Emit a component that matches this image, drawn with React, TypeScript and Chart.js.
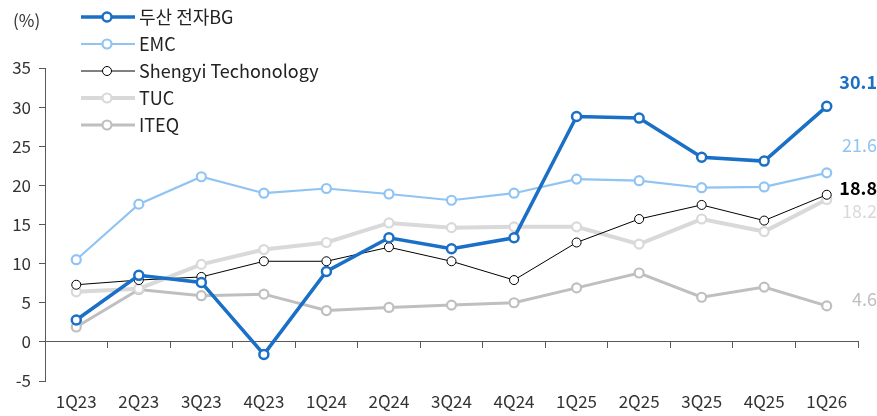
import React, { useEffect, useRef } from "react";
import { Chart, registerables } from "chart.js";

Chart.register(...registerables);

const categories = ["1Q23", "2Q23", "3Q23", "4Q23", "1Q24", "2Q24", "3Q24", "4Q24", "1Q25", "2Q25", "3Q25", "4Q25", "1Q26"];
const doosan = [2.8, 8.5, 7.6, -1.6, 9.0, 13.3, 11.9, 13.3, 28.8, 28.6, 23.6, 23.1, 30.1];
const emc = [10.5, 17.6, 21.1, 19.0, 19.6, 18.9, 18.1, 19.0, 20.8, 20.6, 19.7, 19.8, 21.6];
const shengyi = [7.3, 7.9, 8.3, 10.3, 10.3, 12.1, 10.3, 7.9, 12.7, 15.7, 17.5, 15.5, 18.8];
const tuc = [6.4, 6.8, 9.9, 11.8, 12.7, 15.2, 14.6, 14.7, 14.7, 12.5, 15.7, 14.1, 18.2];
const iteq = [1.9, 6.7, 5.9, 6.1, 4.0, 4.4, 4.7, 5.0, 6.9, 8.8, 5.7, 7.0, 4.6];
const seriesNames = ["두산 전자BG", "EMC", "Shengyi Techonology", "TUC", "ITEQ"];
const yTicks = [-5, 0, 5, 10, 15, 20, 25, 30, 35];

const FONT = "'Noto Sans CJK KR', 'Noto Sans', sans-serif";
const colors = ["#1a6fc6", "#90c4f3", "#000000", "#d9d9d9", "#bfbfbf"];
const widths = [3.5, 2.2, 1, 4, 3];
const borderW = [2.5, 2.2, 1, 2.2, 2.2];

export default function App() {
  const ref = useRef<HTMLCanvasElement | null>(null);
  useEffect(() => {
    document.body.style.margin = "0";
    const all = [doosan, emc, shengyi, tuc, iteq];
    const labelOffsets = [-24, -28, -7, 12, -7];
    const labelBold = [true, false, true, false, false];
    const overlay = {
      id: "overlay",
      afterDraw(chart: any) {
        const ctx = chart.ctx;
        const ys = chart.scales.y;
        ctx.save();
        // (%) unit
        ctx.font = `17px ${FONT}`;
        ctx.fillStyle = "#333";
        ctx.textAlign = "left";
        ctx.textBaseline = "middle";
        ctx.fillText("(%)", 13, 21);
        // legend
        const rows = [17, 44, 71, 98, 125];
        seriesNames.forEach((name, i) => {
          const y = rows[i];
          ctx.strokeStyle = colors[i];
          ctx.lineWidth = widths[i];
          ctx.beginPath();
          ctx.moveTo(81, y);
          ctx.lineTo(135, y);
          ctx.stroke();
          ctx.beginPath();
          ctx.arc(107, y, 4.5, 0, Math.PI * 2);
          ctx.fillStyle = "#fff";
          ctx.fill();
          ctx.lineWidth = borderW[i];
          ctx.stroke();
          ctx.fillStyle = "#222";
          ctx.font = `18px ${FONT}`;
          ctx.textAlign = "left";
          ctx.fillText(name, 139, y);
        });
        // end labels
        all.forEach((arr, i) => {
          const v = arr[arr.length - 1];
          const y = ys.getPixelForValue(v) + labelOffsets[i];
          ctx.font = `${labelBold[i] ? "bold " : ""}18px ${FONT}`;
          ctx.fillStyle = colors[i];
          ctx.textAlign = "right";
          ctx.fillText(v.toFixed(1), 877, y);
        });
        ctx.restore();
      },
    };
    const chart = new Chart(ref.current as HTMLCanvasElement, {
      type: "line",
      data: {
        labels: categories,
        datasets: all.map((d, i) => ({
          label: seriesNames[i],
          data: d,
          borderColor: colors[i],
          borderWidth: widths[i],
          pointRadius: 4.5,
          pointBorderWidth: borderW[i],
          pointBackgroundColor: "#ffffff",
          pointBorderColor: colors[i],
          tension: 0,
          xAxisID: "x",
          yAxisID: "y",
        })),
      },
      options: {
        animation: false,
        responsive: false,
        maintainAspectRatio: false,
        layout: { padding: { top: 68, right: 19, left: 0, bottom: 0 } },
        plugins: { legend: { display: false }, tooltip: { enabled: false } },
        scales: {
          x: {
            type: "category",
            position: { y: 0 } as any,
            offset: true,
            grid: { offset: true, drawOnChartArea: false, drawTicks: true, tickLength: 6, color: "#595959" },
            border: { display: true, color: "#595959", width: 1 },
            ticks: { display: false },
          },
          x2: {
            type: "category",
            position: "bottom",
            labels: categories,
            offset: true,
            grid: { display: false, drawTicks: false },
            border: { display: false },
            ticks: { color: "#333", font: { size: 17, family: FONT }, padding: 10, maxRotation: 0, autoSkip: false },
            afterFit: (s: any) => { s.height = 35; },
          },
          y: {
            min: -5,
            max: 35,
            afterBuildTicks: (s: any) => { s.ticks = yTicks.map((v) => ({ value: v })); },
            grid: { drawOnChartArea: false, drawTicks: true, tickLength: 6, color: "#595959" },
            border: { display: true, color: "#595959", width: 1 },
            ticks: { color: "#333", font: { size: 17, family: FONT }, padding: 8 },
            afterFit: (s: any) => { s.width = 45; },
          },
        },
      },
      plugins: [overlay],
    });
    return () => chart.destroy();
  }, []);
  return (
    <div style={{ width: 877, height: 416, background: "#fff" }}>
      <canvas ref={ref} width={877} height={416} style={{ display: "block" }} />
    </div>
  );
}
